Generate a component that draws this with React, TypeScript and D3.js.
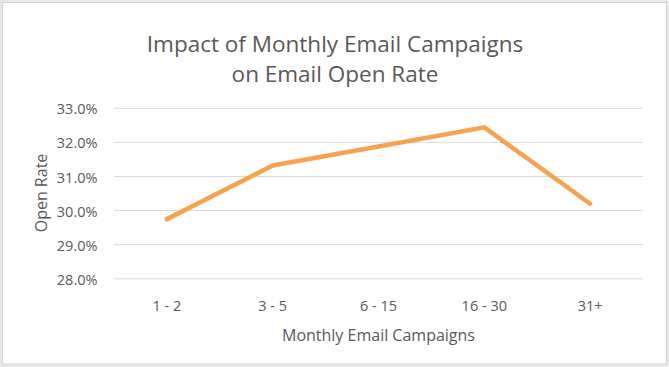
import React from 'react'
import * as d3 from 'd3'

const categories = ['1 - 2', '3 - 5', '6 - 15', '16 - 30', '31+']
const openRates = [29.75, 31.32, 31.88, 32.44, 30.2]
const yTicks = [28, 29, 30, 31, 32, 33]
const titleLines = ['Impact of Monthly Email Campaigns', 'on Email Open Rate']
const xTitle = 'Monthly Email Campaigns'
const yTitle = 'Open Rate'

const width = 669
const height = 367
const left = 114
const right = 643
const top = 108.3
const bottom = 278.8
const font = "'Open Sans', sans-serif"
const textColor = '#595959'
const gridColor = '#d9d9d9'

export default function App () {
  const xScale = d3.scaleBand()
    .domain(categories)
    .range([left, right])
  const yScale = d3.scaleLinear()
    .domain([28, 33])
    .range([bottom, top])
  const line = d3.line<number>()
    .x((d, i) => xScale(categories[i])! + xScale.bandwidth() / 2)
    .y(d => yScale(d))

  return <div style={{ position: 'absolute', left: 0, top: 0 }}>
    <svg width={width} height={height} style={{ display: 'block' }}>
      <rect x='0' y='0' width={width} height={height} fill='#e8e8e8' />
      <rect x='2.5' y='2.5' width={width - 5} height={height - 5.5} fill='#fff' stroke='#d4d4d4' />
      <g fontFamily={font} fill={textColor}>
        {
          titleLines.map((t, i) => {
            return <text key={i} x='335' y={52 + i * 30} fontSize='22.5' textAnchor='middle'>{t}</text>
          })
        }
      </g>
      <g>
        {
          yTicks.map((v, i) => {
            return <g key={i} transform={`translate(0,${yScale(v)})`}>
              <line x1={left} x2={right} y1='0' y2='0' stroke={gridColor} strokeWidth='1' />
              <text x='97.5' dy='6' textAnchor='end' fontFamily={font} fontSize='14.5' fill={textColor}>{v.toFixed(1)}%</text>
            </g>
          })
        }
      </g>
      <g>
        {
          categories.map((c, i) => {
            return <text key={i} x={xScale(c)! + xScale.bandwidth() / 2} y='311' textAnchor='middle' fontFamily={font} fontSize='14.5' fill={textColor}>{c}</text>
          })
        }
      </g>
      <text x='378.5' y='341' textAnchor='middle' fontFamily={font} fontSize='16' fill={textColor}>{xTitle}</text>
      <text transform='translate(47,193) rotate(-90)' textAnchor='middle' fontFamily={font} fontSize='16' fill={textColor}>{yTitle}</text>
      <path d={line(openRates)!} fill='none' stroke='#f8a24f' strokeWidth='4.5' strokeLinecap='round' strokeLinejoin='round' />
    </svg>
  </div>
}
